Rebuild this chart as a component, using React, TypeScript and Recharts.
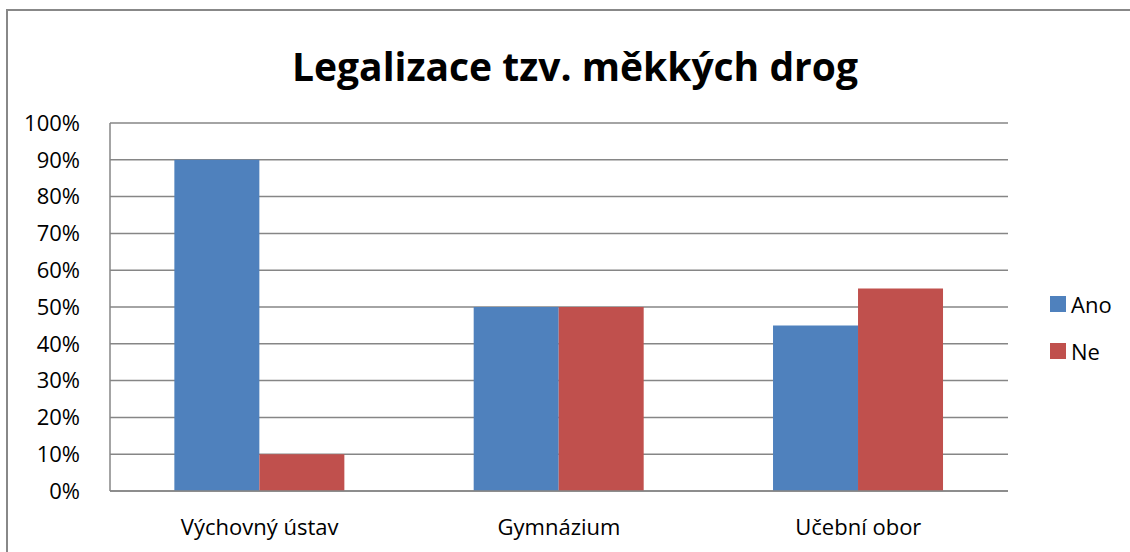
import React from 'react';
import { BarChart, Bar, XAxis, YAxis, CartesianGrid } from 'recharts';

const categories = ['Výchovný ústav', 'Gymnázium', 'Učební obor'];
const ano = [0.9, 0.5, 0.45];
const ne = [0.1, 0.5, 0.55];
const yTicks = [0, 0.1, 0.2, 0.3, 0.4, 0.5, 0.6, 0.7, 0.8, 0.9, 1];

const data = categories.map((name, i) => ({ name, Ano: ano[i], Ne: ne[i] }));

const FONT = '"Open Sans", sans-serif';
const BLUE = '#4f81bd';
const RED = '#c0504d';

const pct = (v: number) => `${Math.round(v * 100)}%`;

function LegendBox() {
    const items = [
        { label: 'Ano', color: BLUE },
        { label: 'Ne', color: RED },
    ];
    return (
        <div style={{ position: 'absolute', left: 1050, top: 280, fontFamily: FONT, fontSize: 22 }}>
            {items.map((it) => (
                <div key={it.label} style={{ display: 'flex', alignItems: 'center', height: 47 }}>
                    <span style={{ width: 16, height: 16, background: it.color, marginRight: 5 }} />
                    <span style={{ color: '#000' }}>{it.label}</span>
                </div>
            ))}
        </div>
    );
}

export default function App() {
    return (
        <div style={{ position: 'fixed', left: 0, top: 0, width: 1130, height: 552, overflow: 'hidden', background: '#fff' }}>
            <div
                style={{
                    position: 'absolute',
                    left: 6,
                    top: 9,
                    width: 1200,
                    height: 600,
                    borderTop: '2px solid #888',
                    borderLeft: '2px solid #888',
                }}
            />
            <div
                style={{
                    position: 'absolute',
                    left: 0,
                    width: 1150,
                    top: 36,
                    textAlign: 'center',
                    fontFamily: FONT,
                    fontWeight: 'bold',
                    fontSize: 39,
                    lineHeight: '60px',
                }}
            >
                Legalizace tzv. měkkých drog
            </div>
            <div style={{ position: 'absolute', left: 0, top: 0 }}>
                <BarChart
                    width={1130}
                    height={552}
                    data={data}
                    margin={{ top: 123, right: 122, left: 0, bottom: 0 }}
                    barCategoryGap="21.5%"
                    barGap={0}
                >
                    <CartesianGrid vertical={false} stroke="#868686" strokeWidth={1.5} />
                    <XAxis
                        dataKey="name"
                        height={61}
                        stroke="#868686"
                        strokeWidth={1.5}
                        tickLine={false}
                        tick={{ fill: '#000', fontFamily: FONT, fontSize: 22 }}
                        tickMargin={22}
                    />
                    <YAxis
                        width={110}
                        domain={[0, 1]}
                        ticks={yTicks}
                        interval={0}
                        tickFormatter={pct}
                        stroke="#868686"
                        strokeWidth={1.5}
                        tickLine={false}
                        tick={{ fill: '#000', fontFamily: FONT, fontSize: 22 }}
                        tickMargin={24}
                    />
                    <Bar dataKey="Ano" fill={BLUE} isAnimationActive={false} />
                    <Bar dataKey="Ne" fill={RED} isAnimationActive={false} />
                </BarChart>
            </div>
            <LegendBox />
        </div>
    );
}
